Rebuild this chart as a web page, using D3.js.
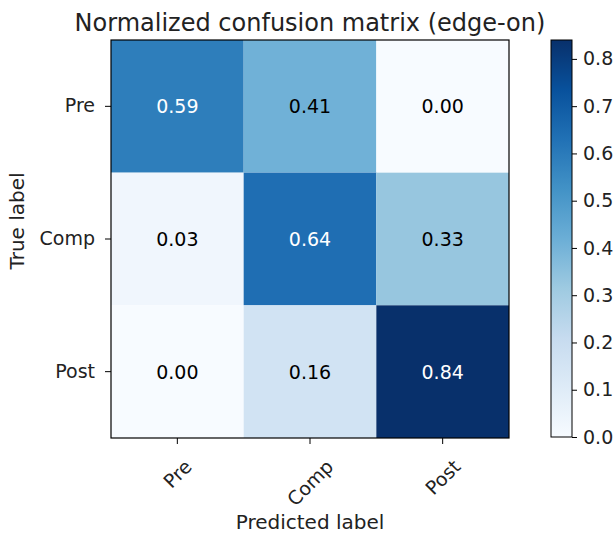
<!DOCTYPE html>
<html>
<head>
<meta charset="utf-8">
<script src="https://cdn.jsdelivr.net/npm/d3@7"></script>
<style>
  body { margin: 0; background: #fff; }
  text { font-family: "DejaVu Sans", sans-serif; fill: #222; }
</style>
</head>
<body>
<div id="chart"></div>
<script>
var classes = ['Pre', 'Comp', 'Post'];
// rows = true label, columns = predicted label
var matrix = [
  [0.59, 0.41, 0.00],
  [0.03, 0.64, 0.33],
  [0.00, 0.16, 0.84]
];
var cbarTicks = [0.0, 0.1, 0.2, 0.3, 0.4, 0.5, 0.6, 0.7, 0.8];
var vmax = 0.84;

var width = 616, height = 539;
var plot = {left: 111, top: 40, right: 509, bottom: 438};
var cbar = {left: 551, right: 572, top: 40, bottom: 437};
var fs = 19;

var svg = d3.select('#chart').append('svg')
  .attr('width', width)
  .attr('height', height);

var x = d3.scaleBand().domain(classes).range([plot.left, plot.right]);
var y = d3.scaleBand().domain(classes).range([plot.top, plot.bottom]);

// piecewise linear like matplotlib's Blues
var blues = d3.schemeBlues[9];
var color = d3.scaleLinear()
  .domain(blues.map(function (d, i) { return vmax * i / (blues.length - 1); }))
  .range(blues)
  .clamp(true);

var cells = [];
matrix.forEach(function (row, i) {
  row.forEach(function (v, j) {
    cells.push({row: classes[i], col: classes[j], value: v});
  });
});

svg.append('g').selectAll('rect')
  .data(cells)
  .enter().append('rect')
  .attr('x', function (d) { return x(d.col); })
  .attr('y', function (d) { return y(d.row); })
  .attr('width', x.bandwidth())
  .attr('height', y.bandwidth())
  .attr('fill', function (d) { return color(d.value); });

svg.append('g').selectAll('text')
  .data(cells)
  .enter().append('text')
  .attr('x', function (d) { return x(d.col) + x.bandwidth() / 2; })
  .attr('y', function (d) { return y(d.row) + y.bandwidth() / 2; })
  .attr('text-anchor', 'middle')
  .attr('dominant-baseline', 'central')
  .style('font-size', fs + 'px')
  .style('fill', function (d) { return d.value > vmax / 2 ? '#fff' : '#000'; })
  .text(function (d) { return d.value.toFixed(2); });

// frame
svg.append('rect')
  .attr('x', plot.left).attr('y', plot.top)
  .attr('width', plot.right - plot.left).attr('height', plot.bottom - plot.top)
  .attr('fill', 'none').attr('stroke', '#000').attr('stroke-width', 1.2);

// y axis
var yAxis = svg.append('g')
  .attr('transform', 'translate(' + plot.left + ',0)')
  .call(d3.axisLeft(y).tickSize(6).tickPadding(10));
yAxis.select('.domain').remove();
yAxis.selectAll('text').style('font-size', fs + 'px').style('fill', '#222');

// x axis
var xAxis = svg.append('g')
  .attr('transform', 'translate(0,' + plot.bottom + ')')
  .call(d3.axisBottom(x).tickSize(6));
xAxis.select('.domain').remove();
xAxis.selectAll('text').each(function (d) {
  var t = d3.select(this)
    .style('font-size', fs + 'px')
    .style('fill', '#222')
    .attr('text-anchor', 'middle')
    .attr('dominant-baseline', 'central')
    .attr('y', null).attr('dy', null);
  var len = this.getComputedTextLength();
  var h = (len + fs * 0.75) * Math.SQRT1_2;
  t.attr('transform', 'translate(0,' + (20 + h / 2) + ') rotate(-45)');
});

// titles
svg.append('text')
  .attr('x', (plot.left + plot.right) / 2)
  .attr('y', 31)
  .attr('text-anchor', 'middle')
  .style('font-size', '24px')
  .text('Normalized confusion matrix (edge-on)');

svg.append('text')
  .attr('x', (plot.left + plot.right) / 2)
  .attr('y', 529)
  .attr('text-anchor', 'middle')
  .style('font-size', '20px')
  .text('Predicted label');

svg.append('text')
  .attr('transform', 'translate(24,221) rotate(-90)')
  .attr('text-anchor', 'middle')
  .style('font-size', '20px')
  .text('True label');

// colorbar
var defs = svg.append('defs');
var grad = defs.append('linearGradient')
  .attr('id', 'cbar-grad')
  .attr('x1', 0).attr('y1', 1).attr('x2', 0).attr('y2', 0);
blues.forEach(function (c, i) {
  grad.append('stop')
    .attr('offset', i / (blues.length - 1))
    .attr('stop-color', c);
});

var cy = d3.scaleLinear().domain([0, vmax]).range([cbar.bottom, cbar.top]);

svg.append('rect')
  .attr('x', cbar.left).attr('y', cbar.top)
  .attr('width', cbar.right - cbar.left).attr('height', cbar.bottom - cbar.top)
  .attr('fill', 'url(#cbar-grad)')
  .attr('stroke', '#000').attr('stroke-width', 1);

var cAxis = svg.append('g')
  .attr('transform', 'translate(' + cbar.right + ',0)')
  .call(d3.axisRight(cy).tickValues(cbarTicks).tickFormat(d3.format('.1f')).tickSize(5).tickPadding(6));
cAxis.select('.domain').remove();
cAxis.selectAll('text').style('font-size', fs + 'px').style('fill', '#222');
</script>
</body>
</html>
